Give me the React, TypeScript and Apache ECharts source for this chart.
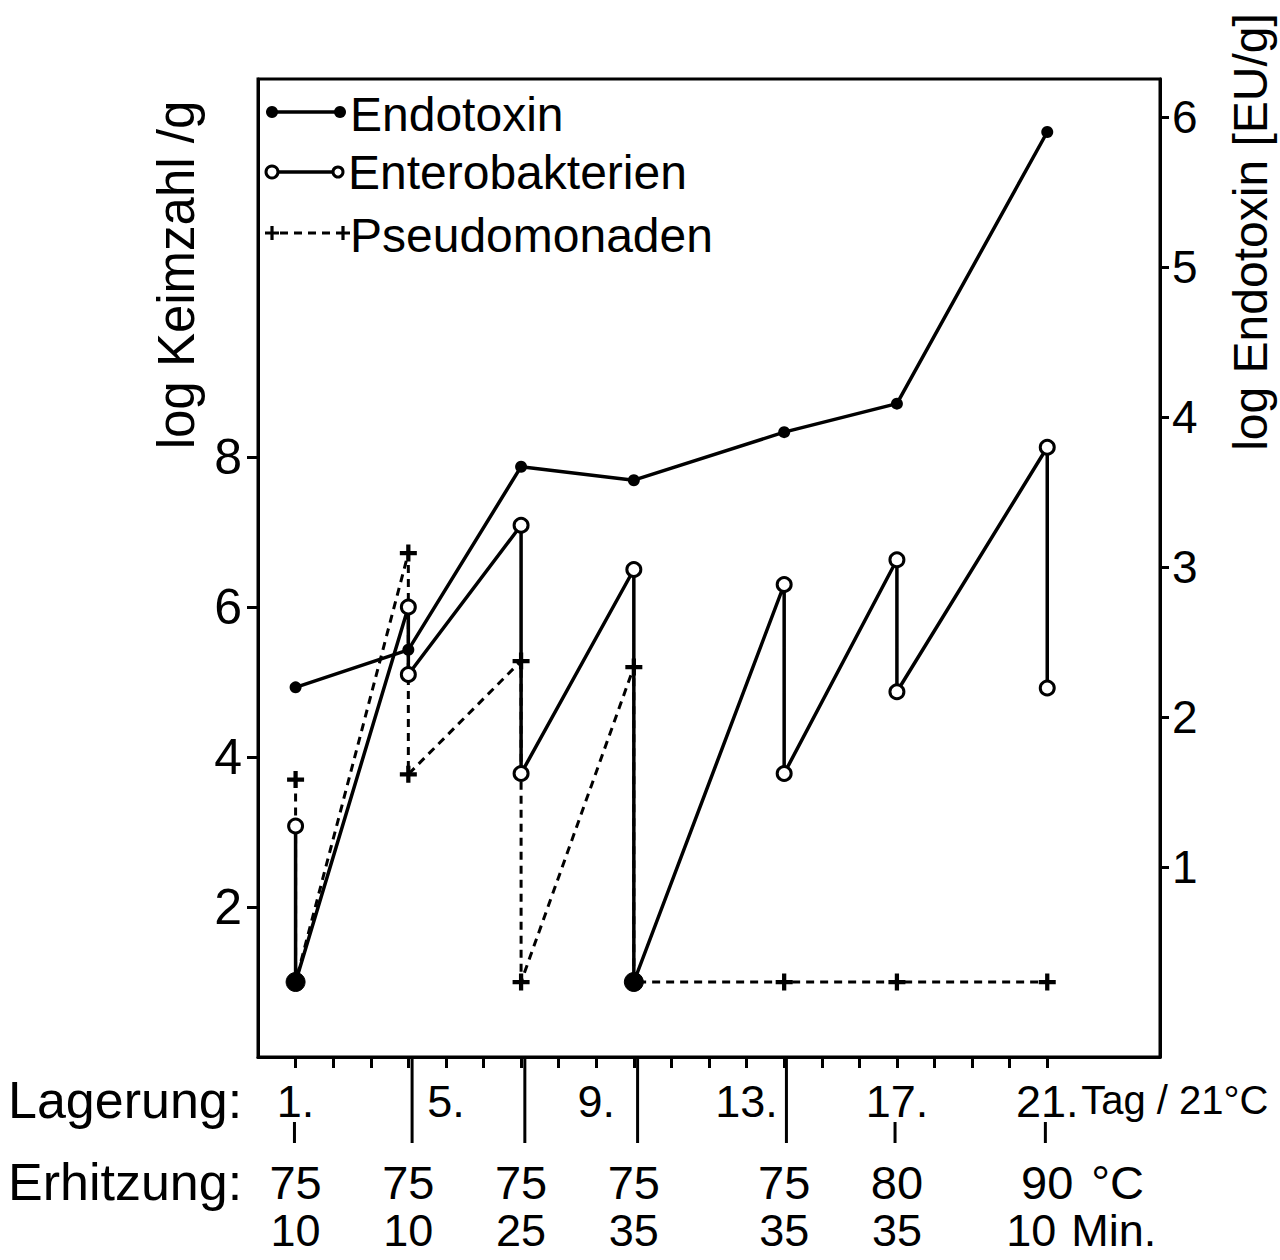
import React, { useEffect, useRef } from "react";
import * as echarts from "echarts";

const FONT = "'Liberation Sans', Arial, sans-serif";

// Endotoxin (right axis, log EU/g)
const endotoxinDays = [1, 4, 7, 10, 14, 17, 21];
const endotoxinLog = [2.2, 2.45, 3.67, 3.58, 3.9, 4.09, 5.9];

// Enterobakterien (left axis, log Keimzahl/g): before / after heating on each heating day
const enteroDays = [1, 1, 4, 4, 7, 7, 10, 10, 14, 14, 17, 17, 21, 21];
const enteroLog = [3.08, 1.0, 6.0, 5.1, 7.09, 3.78, 6.5, 1.0, 6.3, 3.78, 6.63, 4.87, 8.13, 4.92];
const enteroBelowLimit = [false, true, false, false, false, false, false, true, false, false, false, false, false, false];

// Pseudomonaden (left axis)
const pseudoDays = [1, 1, 4, 4, 7, 7, 10, 10, 14, 17, 21];
const pseudoLog = [3.7, 1.0, 6.72, 3.77, 5.28, 1.0, 5.2, 1.0, 1.0, 1.0, 1.0];
const pseudoMarked = [true, false, true, true, true, true, true, false, true, true, true];

// Heating (Erhitzung) schedule
const heatDays = [1, 4, 7, 10, 14, 17, 21];
const heatTempC = ["75", "75", "75", "75", "75", "80", "90"];
const heatMinutes = ["10", "10", "25", "35", "35", "35", "10"];

// Axis ticks / labels
const dayTicks = [1, 2, 3, 4, 5, 6, 7, 8, 9, 10, 11, 12, 13, 14, 15, 16, 17, 18, 19, 20, 21];
const dayLabels = [1, 5, 9, 13, 17, 21];
const leftTicks = [2, 4, 6, 8];
const rightTicks = [1, 2, 3, 4, 5, 6];
const separatorDays = [4.1, 7.1, 10.1, 14.06];
const shortMarkDays = [0.97, 16.95, 20.95];

const PLUS = "path://M-1.5,-6 L1.5,-6 L1.5,-1.5 L6,-1.5 L6,1.5 L1.5,1.5 L1.5,6 L-1.5,6 L-1.5,1.5 L-6,1.5 L-6,-1.5 L-1.5,-1.5 Z";
const PLUS_PTS = [[-1.6, -7], [1.6, -7], [1.6, -1.6], [7, -1.6], [7, 1.6], [1.6, 1.6], [1.6, 7], [-1.6, 7], [-1.6, 1.6], [-7, 1.6], [-7, -1.6], [-1.6, -1.6]];

export default function App() {
  const ref = useRef<HTMLDivElement>(null);

  useEffect(() => {
    document.body.style.margin = "0";
    const el = ref.current!;
    const chart = echarts.init(el, null, { renderer: "svg" });

    const axisLine = { show: true, lineStyle: { color: "#000", width: 3 } };

    const option: any = {
      animation: false,
      backgroundColor: "#fff",
      textStyle: { fontFamily: FONT },
      grid: {
        left: 258,
        right: 120,
        top: 79,
        bottom: 203,
        show: true,
        borderColor: "#000",
        borderWidth: 3,
        backgroundColor: "transparent",
      },
      xAxis: {
        type: "value",
        min: 0,
        max: 24,
        axisLine,
        splitLine: { show: false },
        axisTick: { show: true, customValues: dayTicks, length: 11, inside: false, lineStyle: { color: "#000", width: 3 } },
        axisLabel: {
          customValues: dayLabels,
          formatter: (v: number) => v + ".",
          fontSize: 45,
          fontFamily: FONT,
          color: "#000",
          margin: 22,
        },
      },
      yAxis: [
        {
          type: "value",
          min: 0,
          max: 13.04,
          position: "left",
          axisLine,
          splitLine: { show: false },
          axisTick: { show: true, customValues: leftTicks, length: 11, lineStyle: { color: "#000", width: 3 } },
          axisLabel: { customValues: leftTicks, fontSize: 50, fontFamily: FONT, color: "#000", margin: 16 },
        },
        {
          type: "value",
          min: -0.263,
          max: 6.253,
          position: "right",
          axisLine,
          splitLine: { show: false },
          axisTick: { show: true, customValues: rightTicks, length: 9, lineStyle: { color: "#000", width: 3 } },
          axisLabel: { customValues: rightTicks, fontSize: 46, fontFamily: FONT, color: "#000", margin: 12 },
        },
      ],
      series: [
        {
          name: "Pseudomonaden",
          type: "line",
          yAxisIndex: 0,
          z: 2,
          data: pseudoDays.map((d, i) => ({
            value: [d, pseudoLog[i]],
            symbol: pseudoMarked[i] ? PLUS : "none",
            symbolSize: 17,
          })),
          lineStyle: { color: "#000", width: 3, type: [8, 6] },
          itemStyle: { color: "#000" },
        },
        {
          name: "Endotoxin",
          type: "line",
          yAxisIndex: 1,
          z: 3,
          symbol: "circle",
          symbolSize: 12,
          data: endotoxinDays.map((d, i) => [d, endotoxinLog[i]]),
          lineStyle: { color: "#000", width: 3.5 },
          itemStyle: { color: "#000" },
        },
        {
          name: "Enterobakterien",
          type: "line",
          yAxisIndex: 0,
          z: 4,
          data: enteroDays.map((d, i) =>
            enteroBelowLimit[i]
              ? { value: [d, enteroLog[i]], symbol: "circle", symbolSize: 19, itemStyle: { color: "#000", borderColor: "#000", borderWidth: 1 } }
              : { value: [d, enteroLog[i]] }
          ),
          symbol: "circle",
          symbolSize: 14,
          lineStyle: { color: "#000", width: 3.5 },
          itemStyle: { color: "#fff", borderColor: "#000", borderWidth: 3 },
        },
      ],
    };

    chart.setOption(option);

    const px = (d: number) => chart.convertToPixel({ xAxisIndex: 0 }, d) as number;
    const axisBottom = 1057;
    const txt = (text: string, x: number, y: number, fontSize: number, align = "center", rotation = 0) => ({
      type: "text",
      x,
      y,
      rotation,
      silent: true,
      style: { text, fill: "#000", fontSize, fontFamily: FONT, align, verticalAlign: "middle" },
    });

    const graphics: any[] = [];

    // axis names
    graphics.push(txt("log Keimzahl /g", 176, 275, 51, "center", Math.PI / 2));
    graphics.push(txt("log Endotoxin [EU/g]", 1250, 232, 48, "center", Math.PI / 2));

    // legend
    const lx1 = 272, lx2 = 340;
    graphics.push({ type: "line", shape: { x1: lx1, y1: 112, x2: lx2, y2: 112 }, style: { stroke: "#000", lineWidth: 3.5 } });
    graphics.push({ type: "circle", shape: { cx: lx1, cy: 112, r: 6 }, style: { fill: "#000" } });
    graphics.push({ type: "circle", shape: { cx: lx2, cy: 112, r: 6 }, style: { fill: "#000" } });
    graphics.push(txt("Endotoxin", 350, 114, 48, "left"));

    graphics.push({ type: "line", shape: { x1: lx1 + 6, y1: 172, x2: lx2 - 6, y2: 172 }, style: { stroke: "#000", lineWidth: 3.5 } });
    graphics.push({ type: "circle", shape: { cx: lx1, cy: 172, r: 6 }, style: { fill: "#fff", stroke: "#000", lineWidth: 3 } });
    graphics.push({ type: "circle", shape: { cx: lx2 - 2, cy: 172, r: 5 }, style: { fill: "#fff", stroke: "#000", lineWidth: 3 } });
    graphics.push(txt("Enterobakterien", 348, 172, 48, "left"));

    graphics.push({ type: "line", shape: { x1: lx1 + 8, y1: 233, x2: lx2 - 4, y2: 233 }, style: { stroke: "#000", lineWidth: 3, lineDash: [8, 6] } });
    graphics.push({ type: "polygon", shape: { points: PLUS_PTS }, x: lx1, y: 233, style: { fill: "#000" } });
    graphics.push({ type: "polygon", shape: { points: PLUS_PTS }, x: lx2 + 3, y: 233, style: { fill: "#000" } });
    graphics.push(txt("Pseudomonaden", 350, 235, 48, "left"));

    // separators below axis
    separatorDays.forEach((d) => {
      const x = px(d);
      graphics.push({ type: "line", shape: { x1: x, y1: axisBottom, x2: x, y2: 1143 }, style: { stroke: "#000", lineWidth: 3 } });
    });
    shortMarkDays.forEach((d) => {
      const x = px(d);
      graphics.push({ type: "line", shape: { x1: x, y1: 1122, x2: x, y2: 1143 }, style: { stroke: "#000", lineWidth: 3 } });
    });

    // bottom labels
    graphics.push(txt("Lagerung:", 8, 1100, 52, "left"));
    graphics.push(txt("Tag / 21°C", px(21) + 34, 1100, 40, "left"));
    graphics.push(txt("Erhitzung:", 8, 1182, 52, "left"));
    heatDays.forEach((d, i) => {
      const last = i === heatDays.length - 1;
      graphics.push(txt(heatTempC[i], px(d), 1182, 47, "center"));
      graphics.push(txt(heatMinutes[i], px(d) - (last ? 16 : 0), 1230, 45, "center"));
    });
    graphics.push(txt("°C", px(21) + 44, 1182, 47, "left"));
    graphics.push(txt("Min.", px(21) + 24, 1230, 45, "left"));

    chart.setOption({ graphic: graphics });

    return () => chart.dispose();
  }, []);

  return <div ref={ref} style={{ width: 1280, height: 1260 }} />;
}
